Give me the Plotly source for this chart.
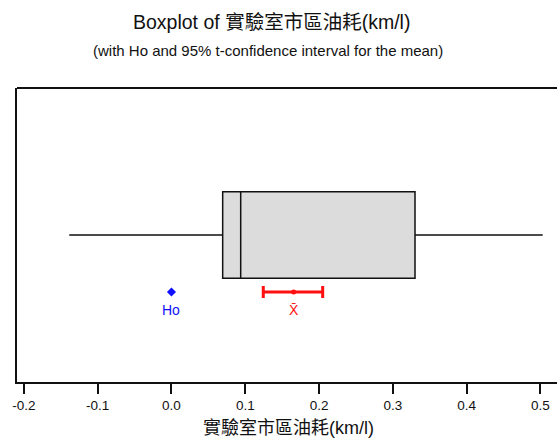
import plotly.graph_objects as go

# ---- data ----
var_name = "實驗室市區油耗(km/l)"
box_q1 = [0.0694]
box_median = [0.0938]
box_q3 = [0.330]
whisker_low = [-0.1385]
whisker_high = [0.503]
mean_val = [0.1656]
ci_low = [0.1244]
ci_high = [0.2049]
ho_val = [0.0]
tick_vals = [-0.2, -0.1, 0.0, 0.1, 0.2, 0.3, 0.4, 0.5]
tick_text = ["-0.2", "-0.1", "0.0", "0.1", "0.2", "0.3", "0.4", "0.5"]

FONT = "Arial, 'Liberation Sans', 'Noto Sans CJK TC', sans-serif"

W, H = 557, 439
L, R, T, B = 17, 0, 88, 57
PW, PH = W - L - R, H - T - B


def px_x(px):
    return (px - L) / PW


def px_y(py):
    return (H - B - py) / PH


box_y = 0.5
ci_y = 0.306
label_y = 0.245

fig = go.Figure()

fig.add_trace(go.Box(
    y=[box_y], q1=box_q1, median=box_median, q3=box_q3,
    lowerfence=whisker_low, upperfence=whisker_high,
    orientation="h", width=0.294, whiskerwidth=0,
    fillcolor="#dcdcdc", line=dict(color="#111111", width=1.5),
    boxpoints=False, showlegend=False, hoverinfo="skip",
))

# confidence interval for the mean
fig.add_trace(go.Scatter(
    x=mean_val, y=[ci_y], mode="markers",
    marker=dict(color="#ff1010", size=5, symbol="circle"),
    error_x=dict(type="data", symmetric=False,
                 array=[ci_high[0] - mean_val[0]],
                 arrayminus=[mean_val[0] - ci_low[0]],
                 color="#ff1010", thickness=3, width=6),
    showlegend=False, hoverinfo="skip",
))

# Ho
fig.add_trace(go.Scatter(
    x=ho_val, y=[ci_y], mode="markers",
    marker=dict(color="#1010ff", size=7, symbol="diamond"),
    showlegend=False, hoverinfo="skip",
))

fig.add_annotation(x=ho_val[0], y=label_y, text="Ho", showarrow=False,
                   font=dict(family=FONT, size=14, color="#1010ff"),
                   xref="x", yref="y")
fig.add_annotation(x=mean_val[0], y=label_y, text="X\u0304", showarrow=False,
                   font=dict(family=FONT, size=14, color="#ff1010"),
                   xref="x", yref="y")

# titles
fig.add_annotation(x=px_x(271), y=px_y(22), xref="paper", yref="paper",
                   text="Boxplot of " + var_name, showarrow=False,
                   font=dict(family=FONT, size=19.5, color="#111111"),
                   xanchor="center", yanchor="middle")
fig.add_annotation(x=px_x(268), y=px_y(50), xref="paper", yref="paper",
                   text="(with Ho and 95% t-confidence interval for the mean)",
                   showarrow=False,
                   font=dict(family=FONT, size=15, color="#111111"),
                   xanchor="center", yanchor="middle")
fig.add_annotation(x=px_x(288), y=px_y(428), xref="paper", yref="paper",
                   text=var_name, showarrow=False,
                   font=dict(family=FONT, size=18, color="#111111"),
                   xanchor="center", yanchor="middle")

# top frame line
fig.add_shape(type="line", xref="paper", yref="paper", x0=0, x1=1, y0=1, y1=1,
              line=dict(color="#111111", width=2))

fig.update_layout(
    width=W, height=H,
    margin=dict(l=L, r=R, t=T, b=B, pad=0),
    paper_bgcolor="white", plot_bgcolor="white",
    font=dict(family=FONT, color="#111111"),
    xaxis=dict(range=[-0.2093, 0.5224], tickvals=tick_vals, ticktext=tick_text,
               ticks="outside", ticklen=10, tickwidth=1.5, tickcolor="#111111",
               showline=True, linecolor="#111111", linewidth=2, mirror=False,
               showgrid=False, zeroline=False, automargin=False,
               tickfont=dict(family=FONT, size=13.5, color="#111111")),
    yaxis=dict(range=[0, 1], showticklabels=False, ticks="",
               showline=True, linecolor="#111111", linewidth=2, mirror=False,
               showgrid=False, zeroline=False, automargin=False),
)

fig.write_html("out.html", config={"displayModeBar": False},
               post_script="document.body.style.margin='0';")
